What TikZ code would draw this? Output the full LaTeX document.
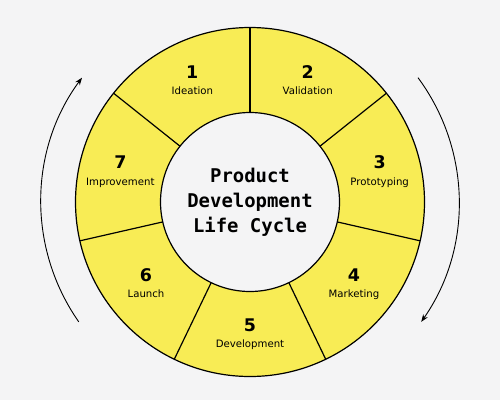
\documentclass[tikz,border=0pt]{standalone}
\usepackage{fontspec}
\usepackage{tikz}
\usetikzlibrary{arrows.meta}
\setmainfont{DejaVu Sans}
\newfontfamily\cyclemono{DejaVu Sans Mono}
\definecolor{pagebg}{HTML}{F4F4F5}
\definecolor{ringfill}{HTML}{F8EC55}
\tikzset{
  num/.style={font=\fontsize{17.5}{20}\selectfont\bfseries, text height=12.7bp, text depth=0bp, inner sep=0pt},
  lbl/.style={font=\fontsize{10.2}{12}\selectfont, text height=7.4bp, text depth=2bp, inner sep=0pt},
  cyclearrow/.style={line width=0.9bp, -{Stealth[length=7.5bp,width=5.5bp]}}
}

\begin{document}
\begin{tikzpicture}[x=1bp,y=1bp]
            \fill[pagebg] (0,0) rectangle (500,400);
            \useasboundingbox (0,0) rectangle (500,400);
            \begin{scope}[shift={(250,198)}]
                % ring and hub
                \draw[line width=1.2bp, fill=ringfill] (0,0) circle[radius=174.5];
                \draw[line width=1.2bp, fill=pagebg] (0,0) circle[radius=89.5];
                % spokes
                \draw[line width=1.2bp] ( 90.00:89.5) -- ( 90.00:174.5);
                \draw[line width=1.2bp] ( 38.57:89.5) -- ( 38.57:174.5);
                \draw[line width=1.2bp] (-12.86:89.5) -- (-12.86:174.5);
                \draw[line width=1.2bp] (-64.29:89.5) -- (-64.29:174.5);
                \draw[line width=1.2bp] (-115.71:89.5) -- (-115.71:174.5);
                \draw[line width=1.2bp] (-167.14:89.5) -- (-167.14:174.5);
                \draw[line width=1.2bp] (141.43:89.5) -- (141.43:174.5);
                % stages
                \node[num, yshift=10bp]  (n1) at (115.71:133) {1};
                \node[lbl, yshift=-10bp] (l1) at (115.71:133) {Ideation};
                \node[num, yshift=10bp]  (n2) at ( 64.29:133) {2};
                \node[lbl, yshift=-10bp] (l2) at ( 64.29:133) {Validation};
                \node[num, yshift=10bp]  (n3) at ( 12.86:133) {3};
                \node[lbl, yshift=-10bp] (l3) at ( 12.86:133) {Prototyping};
                \node[num, yshift=10bp]  (n4) at (-38.57:133) {4};
                \node[lbl, yshift=-10bp] (l4) at (-38.57:133) {Marketing};
                \node[num, yshift=10bp]  (n5) at (-90.00:133) {5};
                \node[lbl, yshift=-10bp] (l5) at (-90.00:133) {Development};
                \node[num, yshift=10bp]  (n6) at (-141.43:133) {6};
                \node[lbl, yshift=-10bp] (l6) at (-141.43:133) {Launch};
                \node[num, yshift=10bp]  (n7) at (167.14:133) {7};
                \node[lbl, yshift=-10bp] (l7) at (167.14:133) {Improvement};
                % title
                \node[align=center, inner sep=0pt, font=\fontsize{19}{25}\selectfont\cyclemono\bfseries] (title) at (0,0)
                    {Product\\Development\\Life Cycle};
                % direction arrows
                \draw[cyclearrow] (215:209) arc[start angle=215, end angle=143.5, radius=209];
                \draw[cyclearrow] (36.5:209) arc[start angle=36.5, end angle=-35, radius=209];
            \end{scope}
        \end{tikzpicture}
\end{document}
